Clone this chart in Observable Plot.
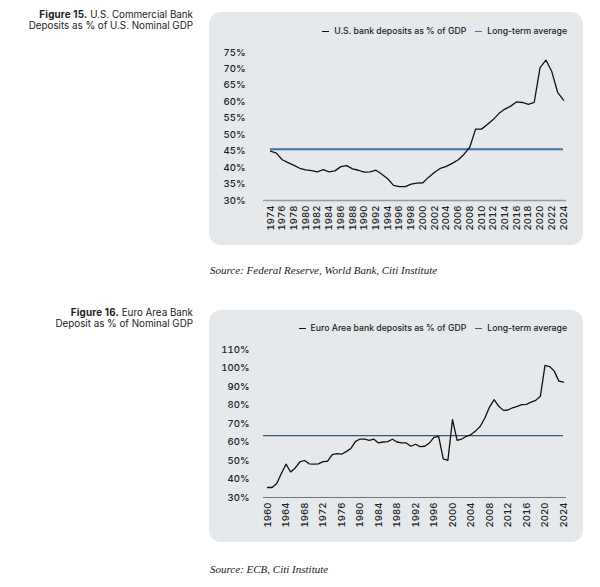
<!DOCTYPE html>
<html><head><meta charset="utf-8">
<script src="https://cdn.jsdelivr.net/npm/d3@7"></script>
<script src="https://cdn.jsdelivr.net/npm/@observablehq/plot@0.6"></script>
<style>
body{margin:0;background:#fff;width:600px;height:587px;position:relative;font-family:Inter,"Noto Sans",sans-serif;overflow:hidden;color:#222}
.title{position:absolute;right:407px;text-align:right;font-size:9.8px;line-height:11px;color:#222;white-space:nowrap}
.title b{font-weight:700;letter-spacing:0.2px}
.panel{position:absolute;left:209px;width:374px;background:#e5e9ec;border-radius:12px}
.legend{position:absolute;right:16px;font-size:8.7px;font-weight:500;color:#222;display:flex;gap:9px;white-space:nowrap;align-items:center}
.legend span.k{display:inline-block;width:7px;height:1.5px;margin-right:5px;vertical-align:middle}
.src{position:absolute;left:210px;font-family:"Liberation Serif","DejaVu Serif",serif;font-style:italic;font-size:11px;color:#1a1a1a}
.plot{position:absolute;left:0;top:28px}
</style></head>
<body>
<div class="title" style="top:9px"><b>Figure 15.</b> U.S. Commercial Bank<br>Deposits as % of U.S. Nominal GDP</div>
<div class="panel" id="p1" style="top:12px;height:233px">
  <div class="legend" style="top:14px"><div><span class="k" style="background:#111"></span>U.S. bank deposits as % of GDP</div><div><span class="k" style="background:#4a6ea9"></span>Long-term average</div></div>
</div>
<div class="src" style="top:264px">Source: Federal Reserve, World Bank, Citi Institute</div>

<div class="title" style="top:307px"><b>Figure 16.</b> Euro Area Bank<br>Deposit as % of Nominal GDP</div>
<div class="panel" id="p2" style="top:310px;height:232px">
  <div class="legend" style="top:13px"><div><span class="k" style="background:#111"></span>Euro Area bank deposits as % of GDP</div><div><span class="k" style="background:#3d5a7a"></span>Long-term average</div></div>
</div>
<div class="src" style="top:563px">Source: ECB, Citi Institute</div>

<script>
// ---- Figure 15: U.S. ----
const usYears = [1974,1975,1976,1977,1978,1979,1980,1981,1982,1983,1984,1985,1986,1987,1988,1989,1990,1991,1992,1993,1994,1995,1996,1997,1998,1999,2000,2001,2002,2003,2004,2005,2006,2007,2008,2009,2010,2011,2012,2013,2014,2015,2016,2017,2018,2019,2020,2021,2022,2023,2024];
const usValues = [45.0,44.4,42.4,41.5,40.7,39.8,39.3,39.1,38.7,39.4,38.7,39.0,40.3,40.6,39.6,39.2,38.6,38.7,39.2,38.0,36.6,34.6,34.2,34.2,35.0,35.3,35.4,37.1,38.6,39.8,40.4,41.3,42.3,44.0,46.2,51.7,51.7,53.1,54.6,56.5,57.8,58.7,60.0,59.8,59.2,59.8,70.4,72.7,69.2,62.9,60.5];
const usAverage = 45.6;
const usYTicks = [30,35,40,45,50,55,60,65,70,75];
const usXTicks = [1974,1976,1978,1980,1982,1984,1986,1988,1990,1992,1994,1996,1998,2000,2002,2004,2006,2008,2010,2012,2014,2016,2018,2020,2022,2024];

// ---- Figure 16: Euro Area ----
const euYears = [1960,1961,1962,1963,1964,1965,1966,1967,1968,1969,1970,1971,1972,1973,1974,1975,1976,1977,1978,1979,1980,1981,1982,1983,1984,1985,1986,1987,1988,1989,1990,1991,1992,1993,1994,1995,1996,1997,1998,1999,2000,2001,2002,2003,2004,2005,2006,2007,2008,2009,2010,2011,2012,2013,2014,2015,2016,2017,2018,2019,2020,2021,2022,2023,2024];
const euValues = [35.4,35.4,37.6,43.0,48.0,43.8,46.0,49.2,50.0,48.2,48.0,48.2,49.4,49.6,53.2,53.7,53.4,54.8,56.4,60.2,61.6,61.5,60.9,61.5,59.5,60.0,60.2,61.5,60.0,59.5,59.5,57.7,58.8,57.5,57.7,59.5,62.5,63.1,50.9,50.1,72.1,60.9,61.6,63.1,64.0,66.0,68.5,73.0,78.9,82.9,79.3,77.1,77.3,78.5,79.3,80.2,80.3,81.6,82.5,84.7,101.4,100.8,98.3,92.9,92.4];
const euAverage = 63.4;
const euYTicks = [30,40,50,60,70,80,90,100,110];
const euXTicks = [1960,1964,1968,1972,1976,1980,1984,1988,1992,1996,2000,2004,2008,2012,2016,2020,2024];

function chart(years, values, avg, yTicks, xTicks, o) {
  const data = years.map((y, i) => ({year: y, value: values[i]}));
  return Plot.plot({
    width: 374, height: 205,
    marginLeft: 54, marginRight: 17, marginTop: o.mt, marginBottom: o.mb,
    x: {domain: [xTicks[0], xTicks[xTicks.length - 1]], insetLeft: o.il, insetRight: 3,
        ticks: xTicks, tickFormat: d => String(d), tickRotate: -90, tickSize: 0, tickPadding: 5, label: null},
    y: {domain: [yTicks[0], yTicks[yTicks.length - 1]], ticks: yTicks, tickFormat: d => d + "%",
        tickSize: 0, tickPadding: o.yp, label: null},
    style: {background: "transparent", fontFamily: "Inter, 'Noto Sans', sans-serif", fontSize: "9.6px", fontWeight: 500, color: "#222", overflow: "visible"},
    marks: [
      Plot.ruleY([yTicks[0]], {stroke: o.baseColor, strokeWidth: o.baseW}),
      Plot.ruleY([avg], {x1: o.avgX1, x2: xTicks[xTicks.length - 1], stroke: o.avgColor, strokeWidth: o.avgW}),
      Plot.line(data, {x: "year", y: "value", stroke: "#111", strokeWidth: 1.3})
    ]
  });
}

const c1 = chart(usYears, usValues, usAverage, usYTicks, usXTicks,
  {mt: 12, mb: 45, il: 7, yp: 18, baseColor: "#9a9a9a", baseW: 1.5, avgColor: "#4a6ea9", avgW: 2, avgX1: 1974});
c1.classList.add("plot");
document.getElementById("p1").appendChild(c1);

const c2 = chart(euYears, euValues, euAverage, euYTicks, euXTicks,
  {mt: 11, mb: 46, il: 4, yp: 14, baseColor: "#6b7680", baseW: 1, avgColor: "#3d5a7a", avgW: 1.2, avgX1: 1959.1});
c2.classList.add("plot");
document.getElementById("p2").appendChild(c2);
</script>
</body></html>
